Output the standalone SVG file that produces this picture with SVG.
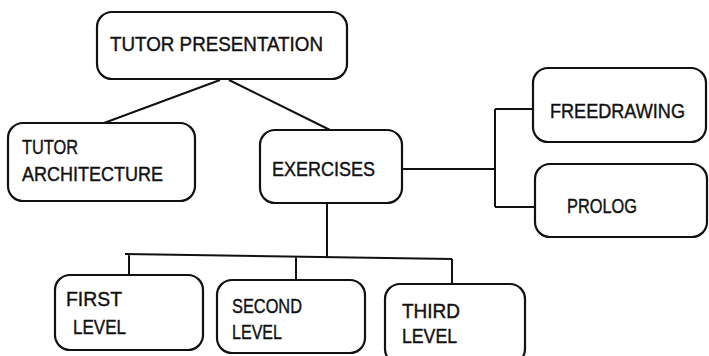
<svg xmlns="http://www.w3.org/2000/svg" width="709" height="356" viewBox="0 0 709 356">
  <style>
    .box { fill: none; stroke: #111; stroke-width: 2.2; }
    .wire { fill: none; stroke: #111; stroke-width: 2; stroke-linejoin: miter; }
    .lbl { font-family: "Liberation Sans", Arial, sans-serif; font-size: 20px; fill: #111; stroke: #111; stroke-width: 0.4; }
  </style>
  <rect width="709" height="356" fill="#fff"/>

  <!-- connectors -->
  <g id="connectors">
    <path class="wire" d="M220 80 L104 123"/>
    <path class="wire" d="M229 80 L330 130"/>
    <path class="wire" d="M402 169 H495 M495 109 V207 M495 109 H533 M495 207 H535"/>
    <path class="wire" d="M327 203 V257 M125 254 L452 259 M129 254 V275 M296 256 V280 M452 259 V284"/>
  </g>

  <g id="tutor-presentation">
    <rect class="box" x="97" y="12" width="250" height="67" rx="15"/>
    <text class="lbl" x="110" y="51" textLength="213" lengthAdjust="spacingAndGlyphs">TUTOR PRESENTATION</text>
  </g>

  <g id="tutor-architecture">
    <rect class="box" x="8" y="123" width="187" height="78" rx="15"/>
    <text class="lbl" x="22" y="154" textLength="56" lengthAdjust="spacingAndGlyphs">TUTOR</text>
    <text class="lbl" x="22" y="181" textLength="141" lengthAdjust="spacingAndGlyphs">ARCHITECTURE</text>
  </g>

  <g id="exercises">
    <rect class="box" x="260" y="130" width="142" height="73" rx="15"/>
    <text class="lbl" x="272" y="176" textLength="103" lengthAdjust="spacingAndGlyphs">EXERCISES</text>
  </g>

  <g id="freedrawing">
    <rect class="box" x="533" y="68" width="173" height="74" rx="15"/>
    <text class="lbl" x="550" y="118" textLength="135" lengthAdjust="spacingAndGlyphs">FREEDRAWING</text>
  </g>

  <g id="prolog">
    <rect class="box" x="535" y="164" width="172" height="73" rx="15"/>
    <text class="lbl" x="567" y="213" textLength="70" lengthAdjust="spacingAndGlyphs">PROLOG</text>
  </g>

  <g id="first-level">
    <rect class="box" x="55" y="275" width="148" height="75" rx="15"/>
    <text class="lbl" x="66" y="306" textLength="56" lengthAdjust="spacingAndGlyphs">FIRST</text>
    <text class="lbl" x="73" y="334" textLength="53" lengthAdjust="spacingAndGlyphs">LEVEL</text>
  </g>

  <g id="second-level">
    <rect class="box" x="217" y="280" width="148" height="73" rx="15"/>
    <text class="lbl" x="232" y="313" textLength="70" lengthAdjust="spacingAndGlyphs">SECOND</text>
    <text class="lbl" x="232" y="339" textLength="50" lengthAdjust="spacingAndGlyphs">LEVEL</text>
  </g>

  <g id="third-level">
    <rect class="box" x="385" y="284" width="140" height="80" rx="15"/>
    <text class="lbl" x="402" y="318" textLength="58" lengthAdjust="spacingAndGlyphs">THIRD</text>
    <text class="lbl" x="402" y="343" textLength="55" lengthAdjust="spacingAndGlyphs">LEVEL</text>
  </g>
</svg>
